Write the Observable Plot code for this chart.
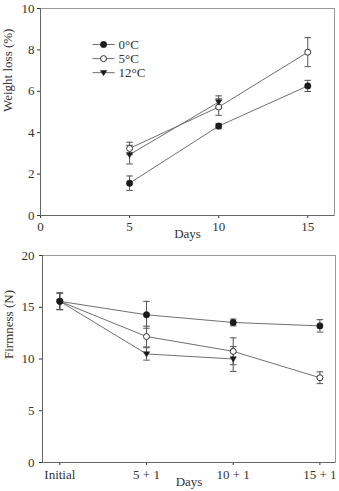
<!DOCTYPE html>
<html>
<head>
<meta charset="utf-8">
<script src="https://cdn.jsdelivr.net/npm/d3@7"></script>
<script src="https://cdn.jsdelivr.net/npm/@observablehq/plot@0.6"></script>
<style>
  html, body { margin: 0; padding: 0; background: #fff; }
  #chart { width: 339px; }
  #chart svg { display: block; background: #fff; font-family: 'Liberation Serif', 'Times New Roman', serif !important; }
  #chart svg text { font-family: 'Liberation Serif', 'Times New Roman', serif; }
</style>
</head>
<body>
<div id="chart"></div>
<script>
// ---------- data ----------
const seriesLabels = ["0°C", "5°C", "12°C"];

// Weight loss (%)
const wlDays = [5, 10, 15];
const wl0 = [1.56, 4.32, 6.26];
const wl0Err = [0.35, 0.13, 0.27];
const wl5 = [3.24, 5.24, 7.89];
const wl5Err = [0.3, 0.4, 0.7];
const wl12 = [2.94, 5.48];
const wl12Err = [0.45, 0.3];
const wlTicks = [0, 5, 10, 15];
const wlYTicks = [0, 2, 4, 6, 8, 10];

// Firmness (N)
const fCategories = ["Initial", "5 + 1", "10 + 1", "15 + 1"];
const f0 = [15.57, 14.27, 13.53, 13.2];
const f0Err = [0.8, 1.3, 0.33, 0.6];
const f5 = [15.57, 12.17, 10.74, 8.19];
const f5Err = [0.8, 1.0, 1.3, 0.57];
const f12 = [15.57, 10.49, 10.0];
const f12Err = [0.8, 0.6, 1.2];
const fYTicks = [0, 5, 10, 15, 20];

// ---------- helpers ----------
const rows = (xs, ys, es) => ys.map((y, i) => ({x: xs[i], y, e: es[i]}));
const capSym = {draw(ctx, size) { const r = Math.sqrt(size / Math.PI); ctx.moveTo(-r, 0); ctx.lineTo(r, 0); }};
const triDown = {draw(ctx, size) { const r = Math.sqrt(size / Math.PI); ctx.moveTo(-r, -r * 0.7); ctx.lineTo(r, -r * 0.7); ctx.lineTo(0, r * 0.95); ctx.closePath(); }};

const lineColor = "#707070";
const errColor = "#555";
const dark = "#1a1a1a";
const font = "'Liberation Serif', 'Times New Roman', serif";

function seriesMarks(data) {
  return [
    Plot.line(data, {x: "x", y: "y", stroke: lineColor, strokeWidth: 1}),
    Plot.ruleX(data, {x: "x", y1: d => d.y - d.e, y2: d => d.y + d.e, stroke: errColor, strokeWidth: 1}),
    Plot.dot(data, {x: "x", y: d => d.y + d.e, symbol: capSym, r: 3.3, stroke: errColor, strokeWidth: 1}),
    Plot.dot(data, {x: "x", y: d => d.y - d.e, symbol: capSym, r: 3.3, stroke: errColor, strokeWidth: 1})
  ];
}
const markerOpts = [
  {symbol: "circle", r: 3.2, fill: dark, stroke: dark, strokeWidth: 0.5},
  {symbol: "circle", r: 3.0, fill: "#fff", stroke: "#333", strokeWidth: 1},
  {symbol: triDown, r: 3.2, fill: dark, stroke: dark, strokeWidth: 0.5}
];

// ---------- top chart: weight loss ----------
const wlSeries = [rows(wlDays, wl0, wl0Err), rows(wlDays, wl5, wl5Err), rows(wlDays, wl12, wl12Err)];
const legend = seriesLabels.map((label, i) => ({label, i, y: 8.26 - i * 0.68}));

const topChart = Plot.plot({
  width: 339, height: 245,
  marginLeft: 40, marginRight: 5, marginTop: 8, marginBottom: 30,
  style: {fontFamily: font, fontSize: "13px", color: "#333", background: "#fff"},
  x: {domain: [0, 16.5], ticks: wlTicks, tickSize: 3, tickPadding: 3, label: null},
  y: {domain: [0, 10], ticks: wlYTicks, tickSize: 3, tickPadding: 3, label: null},
  marks: [
    Plot.frame({stroke: "#999"}),
    Plot.ruleX([0], {stroke: "#666"}),
    Plot.ruleY([0], {stroke: "#666"}),
    ...wlSeries.flatMap(seriesMarks),
    ...wlSeries.map((d, i) => Plot.dot(d, {x: "x", y: "y", ...markerOpts[i]})),
    Plot.link(legend, {x1: 2.92, x2: 4.16, y1: "y", y2: "y", stroke: lineColor}),
    ...markerOpts.map((o, i) => Plot.dot(legend.filter(d => d.i === i), {x: 3.54, y: "y", ...o})),
    Plot.text(legend, {x: 4.38, y: "y", text: "label", textAnchor: "start", fontSize: 13, fill: "#333"}),
    Plot.text(["Weight loss (%)"], {frameAnchor: "left", rotate: -90, dx: -33, text: d => d, fontSize: 13, fill: "#333"}),
    Plot.text(["Days"], {frameAnchor: "bottom", dy: 22, text: d => d, fontSize: 13, fill: "#333"})
  ]
});

// ---------- bottom chart: firmness ----------
const idx = fCategories.map((_, i) => i);
const fSeries = [rows(idx, f0, f0Err), rows(idx, f5, f5Err), rows(idx, f12, f12Err)];

const bottomChart = Plot.plot({
  width: 339, height: 246,
  marginLeft: 42, marginRight: 4, marginTop: 10, marginBottom: 29,
  style: {fontFamily: font, fontSize: "13px", color: "#333", background: "#fff"},
  x: {domain: [-0.2, 3.18], ticks: idx, tickFormat: i => fCategories[i], tickSize: 3, tickPadding: 4, label: null},
  y: {domain: [0, 20], ticks: fYTicks, tickSize: 3, tickPadding: 5, label: null},
  marks: [
    Plot.frame({stroke: "#999"}),
    Plot.ruleX([-0.2], {stroke: "#666"}),
    Plot.ruleY([0], {stroke: "#666"}),
    ...fSeries.flatMap(seriesMarks),
    ...[2, 1, 0].map(i => Plot.dot(fSeries[i], {x: "x", y: "y", ...markerOpts[i]})),
    Plot.text(["Firmness (N)"], {frameAnchor: "left", rotate: -90, dx: -34, text: d => d, fontSize: 13, fill: "#333"}),
    Plot.text(["Days"], {frameAnchor: "bottom", dy: 23, text: d => d, fontSize: 13, fill: "#333"})
  ]
});

document.getElementById("chart").append(topChart, bottomChart);
</script>
</body>
</html>
